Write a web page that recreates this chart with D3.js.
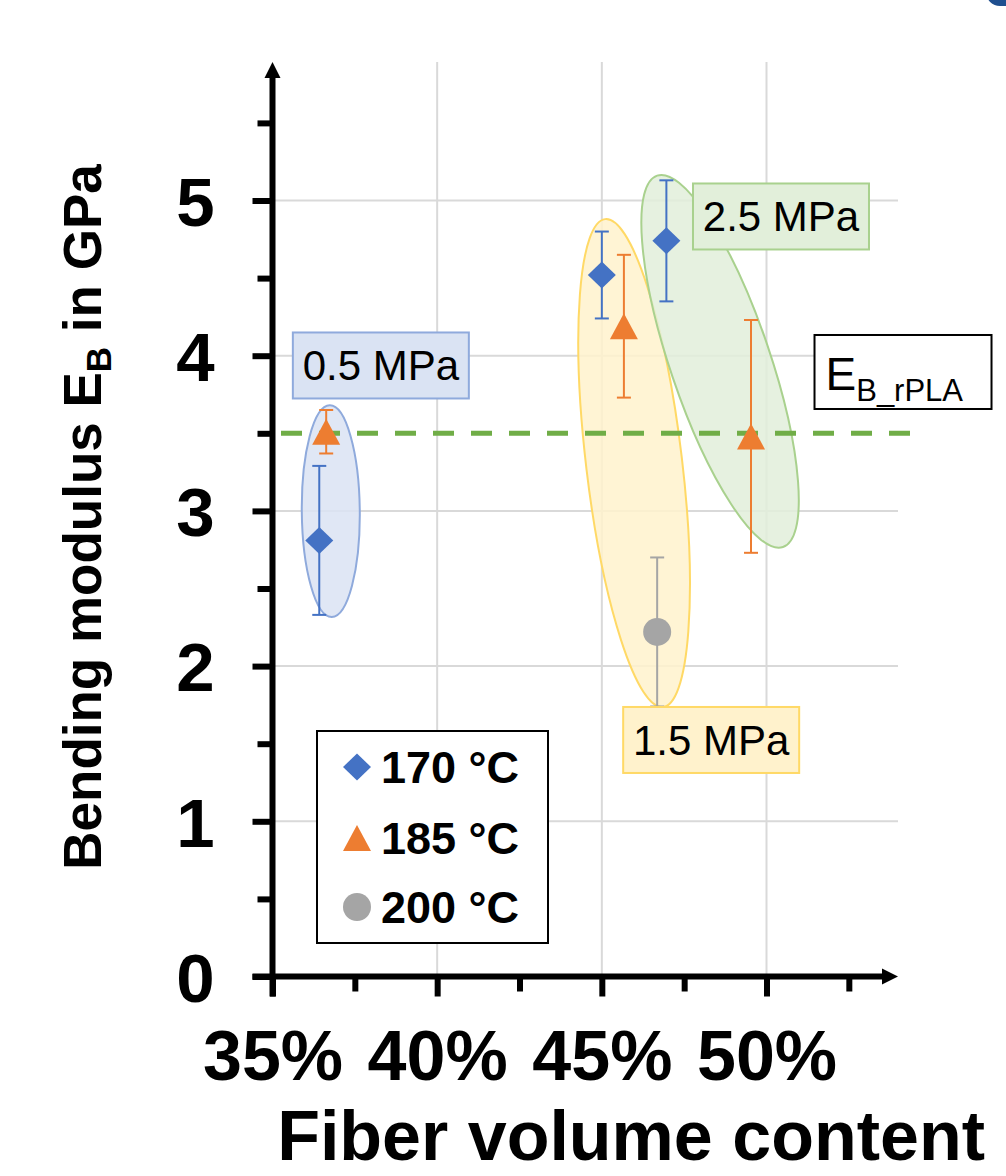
<!DOCTYPE html>
<html>
<head>
<meta charset="utf-8">
<script src="https://cdn.jsdelivr.net/npm/d3@7"></script>
<style>
  html, body { margin: 0; padding: 0; background: #fff; }
  svg { display: block; font-family: "Liberation Sans", Arial, sans-serif; }
</style>
</head>
<body>
<svg id="chart" width="1006" height="1176"></svg>
<script>
// Bending modulus vs. fiber volume content, grouped by pressing temperature
const xTickValues = [35, 40, 45, 50];
const xTickLabels = ["35%", "40%", "45%", "50%"];
const xMinorTicks = [37.5, 42.5, 47.5, 52.5];
const yTickValues = [0, 1, 2, 3, 4, 5];
const yMinorTicks = [0.5, 1.5, 2.5, 3.5, 4.5, 5.5];

const seriesNames = ["170 °C", "185 °C", "200 °C"];
const fiber170 = [36.42, 45.00, 46.96];
const modulus170 = [2.81, 4.52, 4.74];
const sd170 = [0.48, 0.28, 0.39];
const fiber185 = [36.63, 45.67, 49.53];
const modulus185 = [3.51, 4.19, 3.48];
const sd185 = [0.14, 0.46, 0.75];
const fiber200 = [46.68];
const modulus200 = [2.22];
const sd200 = [0.48];

const modulusRPLA = 3.5;
const pressureLabels = ["0.5 MPa", "1.5 MPa", "2.5 MPa"];

const svg = d3.select("#chart");
const x = d3.scaleLinear().domain([35, 50]).range([272.5, 766.5]);
const y = d3.scaleLinear().domain([0, 5]).range([976.5, 200.5]);

const colors = { "170 °C": "#4472c4", "185 °C": "#ed7d31", "200 °C": "#a5a5a5" };
const shapes = { "170 °C": d3.symbolDiamond2, "185 °C": d3.symbolTriangle, "200 °C": d3.symbolCircle };

const series = [
  { name: seriesNames[0], xs: fiber170, ys: modulus170, sd: sd170 },
  { name: seriesNames[1], xs: fiber185, ys: modulus185, sd: sd185 },
  { name: seriesNames[2], xs: fiber200, ys: modulus200, sd: sd200 }
].map(s => ({ name: s.name, points: s.xs.map((v, i) => ({ x: v, y: s.ys[i], sd: s.sd[i] })) }));

const xEnd = 898, yTop = 62;

// top-right corner accent
svg.append("rect").attr("x", 986).attr("y", -30).attr("width", 44).attr("height", 36)
  .attr("rx", 14).attr("fill", "#1f4f8f");

// gridlines
const grid = svg.append("g").attr("stroke", "#d9d9d9").attr("stroke-width", 2);
grid.selectAll(".h").data(yTickValues.filter(v => v > 0)).join("line")
  .attr("x1", x(35)).attr("x2", xEnd).attr("y1", d => y(d)).attr("y2", d => y(d));
grid.selectAll(".v").data(xTickValues.filter(v => v > 35)).join("line")
  .attr("y1", y(0)).attr("y2", yTop).attr("x1", d => x(d)).attr("x2", d => x(d));

// pressure group ellipses: end points in data units, half width in px
const groupEllipses = [
  { top: [36.74, 3.68], bottom: [36.80, 2.316], half: 29, fill: "#dae3f3", stroke: "#8faadc" },
  { top: [45.10, 4.88], bottom: [46.86, 1.736], half: 48, fill: "#fff2cc", stroke: "#ffd966" },
  { top: [46.68, 5.16], bottom: [50.50, 2.767], half: 50, fill: "#e2efda", stroke: "#a9d18e" }
];
groupEllipses.forEach(e => {
  const x1 = x(e.top[0]), y1 = y(e.top[1]), x2 = x(e.bottom[0]), y2 = y(e.bottom[1]);
  const cx = (x1 + x2) / 2, cy = (y1 + y2) / 2;
  const len = Math.hypot(x2 - x1, y2 - y1) / 2;
  const ang = Math.atan2(x1 - x2, y2 - y1) * 180 / Math.PI;
  svg.append("ellipse").attr("cx", cx).attr("cy", cy).attr("rx", e.half).attr("ry", len)
    .attr("transform", `rotate(${ang},${cx},${cy})`)
    .attr("fill", e.fill).attr("fill-opacity", 0.85)
    .attr("stroke", e.stroke).attr("stroke-width", 2);
});

// reference modulus of recycled PLA
svg.append("line").attr("x1", 281).attr("x2", 913)
  .attr("y1", y(modulusRPLA)).attr("y2", y(modulusRPLA))
  .attr("stroke", "#70ad47").attr("stroke-width", 5).attr("stroke-dasharray", "21 17");

// axes
const axisG = svg.append("g");
const yAxis = axisG.append("g").attr("transform", `translate(${x(35)},0)`)
  .call(d3.axisLeft(y).tickValues(yTickValues).tickSize(20).tickPadding(38).tickFormat(d3.format("d")));
const yMinor = axisG.append("g").attr("transform", `translate(${x(35)},0)`)
  .call(d3.axisLeft(y).tickValues(yMinorTicks).tickSize(15).tickFormat(""));
const xAxis = axisG.append("g").attr("transform", `translate(0,${y(0)})`)
  .call(d3.axisBottom(x).tickValues(xTickValues).tickSize(20).tickPadding(34)
    .tickFormat((d, i) => xTickLabels[i]));
const xMinor = axisG.append("g").attr("transform", `translate(0,${y(0)})`)
  .call(d3.axisBottom(x).tickValues(xMinorTicks).tickSize(15).tickFormat(""));
axisG.selectAll(".domain").remove();
axisG.selectAll(".tick line").attr("stroke", "#000").attr("stroke-width", 6);
yAxis.selectAll(".tick text").attr("font-size", 69).attr("font-weight", "bold").attr("fill", "#000")
  .attr("dy", "0.36em");
xAxis.selectAll(".tick text").attr("font-size", 70).attr("font-weight", "bold").attr("fill", "#000")
  .attr("dy", "0.71em");

// axis lines with arrow heads
axisG.append("line").attr("x1", x(35)).attr("x2", x(35)).attr("y1", y(0) + 20).attr("y2", yTop + 12)
  .attr("stroke", "#000").attr("stroke-width", 6);
axisG.append("path").attr("d", `M${x(35)},${yTop} l-8,16 l16,0 z`).attr("fill", "#000");
axisG.append("line").attr("x1", x(35) - 20).attr("x2", xEnd - 10).attr("y1", y(0)).attr("y2", y(0))
  .attr("stroke", "#000").attr("stroke-width", 6);
axisG.append("path").attr("d", `M${xEnd},${y(0)} l-16,-8 l0,16 z`).attr("fill", "#000");

// error bars and markers
series.forEach(s => {
  const c = colors[s.name];
  const g = svg.append("g");
  const eb = g.selectAll(".eb").data(s.points).join("g").attr("stroke", c).attr("stroke-width", 2);
  eb.append("line").attr("x1", d => x(d.x)).attr("x2", d => x(d.x))
    .attr("y1", d => y(d.y + d.sd)).attr("y2", d => y(d.y - d.sd));
  eb.append("line").attr("x1", d => x(d.x) - 7).attr("x2", d => x(d.x) + 7)
    .attr("y1", d => y(d.y + d.sd)).attr("y2", d => y(d.y + d.sd));
  eb.append("line").attr("x1", d => x(d.x) - 7).attr("x2", d => x(d.x) + 7)
    .attr("y1", d => y(d.y - d.sd)).attr("y2", d => y(d.y - d.sd));
});

function marker(sel, name) {
  if (name === "170 °C") {
    sel.append("path").attr("d", "M0,-13.5 L14,0 L0,13.5 L-14,0 Z").attr("fill", colors[name]);
  } else if (name === "185 °C") {
    sel.append("path").attr("d", "M0,-13 L14,13 L-14,13 Z").attr("fill", colors[name]);
  } else {
    sel.append("circle").attr("r", 14).attr("fill", colors[name]);
  }
}
series.forEach(s => {
  svg.append("g").selectAll("g").data(s.points).join("g")
    .attr("transform", d => `translate(${x(d.x)},${y(d.y)})`)
    .each(function () { marker(d3.select(this), s.name); });
});

// pressure annotation boxes (centres in data units)
const pressureBoxes = [
  { label: pressureLabels[0], cx: 38.29, cy: 3.937, fill: "#dae3f3", stroke: "#8faadc" },
  { label: pressureLabels[1], cx: 48.32, cy: 1.524, fill: "#fff2cc", stroke: "#ffd966" },
  { label: pressureLabels[2], cx: 50.44, cy: 4.897, fill: "#e2efda", stroke: "#a9d18e" }
];
pressureBoxes.forEach(b => {
  const g = svg.append("g").attr("transform", `translate(${x(b.cx)},${y(b.cy)})`);
  g.append("rect").attr("x", -88).attr("y", -33).attr("width", 176).attr("height", 66)
    .attr("fill", b.fill).attr("stroke", b.stroke).attr("stroke-width", 2);
  g.append("text").attr("text-anchor", "middle").attr("y", 15).attr("font-size", 42)
    .attr("fill", "#000").text(b.label);
});

// E_B_rPLA label
const eg = svg.append("g").attr("transform", `translate(${x(54.13)},${y(3.895)})`);
eg.append("rect").attr("x", -88).attr("y", -37).attr("width", 177).attr("height", 74)
  .attr("fill", "#fff").attr("stroke", "#000").attr("stroke-width", 2);
const et = eg.append("text").attr("x", -77).attr("y", 18).attr("font-size", 46).attr("fill", "#000");
et.append("tspan").text("E");
et.append("tspan").attr("font-size", 31).attr("dy", 11).text("B_rPLA");

// legend
const lg = svg.append("g");
lg.append("rect").attr("x", 317).attr("y", 731).attr("width", 231).attr("height", 212)
  .attr("fill", "#fff").attr("stroke", "#000").attr("stroke-width", 2);
const rowsY = [767, 838, 907];
seriesNames.forEach((n, i) => {
  const row = lg.append("g").attr("transform", `translate(357,${rowsY[i]})`);
  marker(row, n);
  row.append("text").attr("x", 24).attr("y", 16).attr("font-size", 45).attr("font-weight", "bold")
    .attr("fill", "#000").text(n);
});

// axis titles
const yt = svg.append("text").attr("transform", "translate(101,517) rotate(-90)")
  .attr("text-anchor", "middle").attr("font-size", 53).attr("font-weight", "bold").attr("fill", "#000");
yt.append("tspan").text("Bending modulus E");
yt.append("tspan").attr("font-size", 35).attr("dy", 10).text("B");
yt.append("tspan").attr("dy", -10).text(" in GPa");

svg.append("text").attr("x", 985).attr("y", 1160).attr("text-anchor", "end")
  .attr("font-size", 70).attr("font-weight", "bold").attr("fill", "#000").text("Fiber volume content");
</script>
</body>
</html>
